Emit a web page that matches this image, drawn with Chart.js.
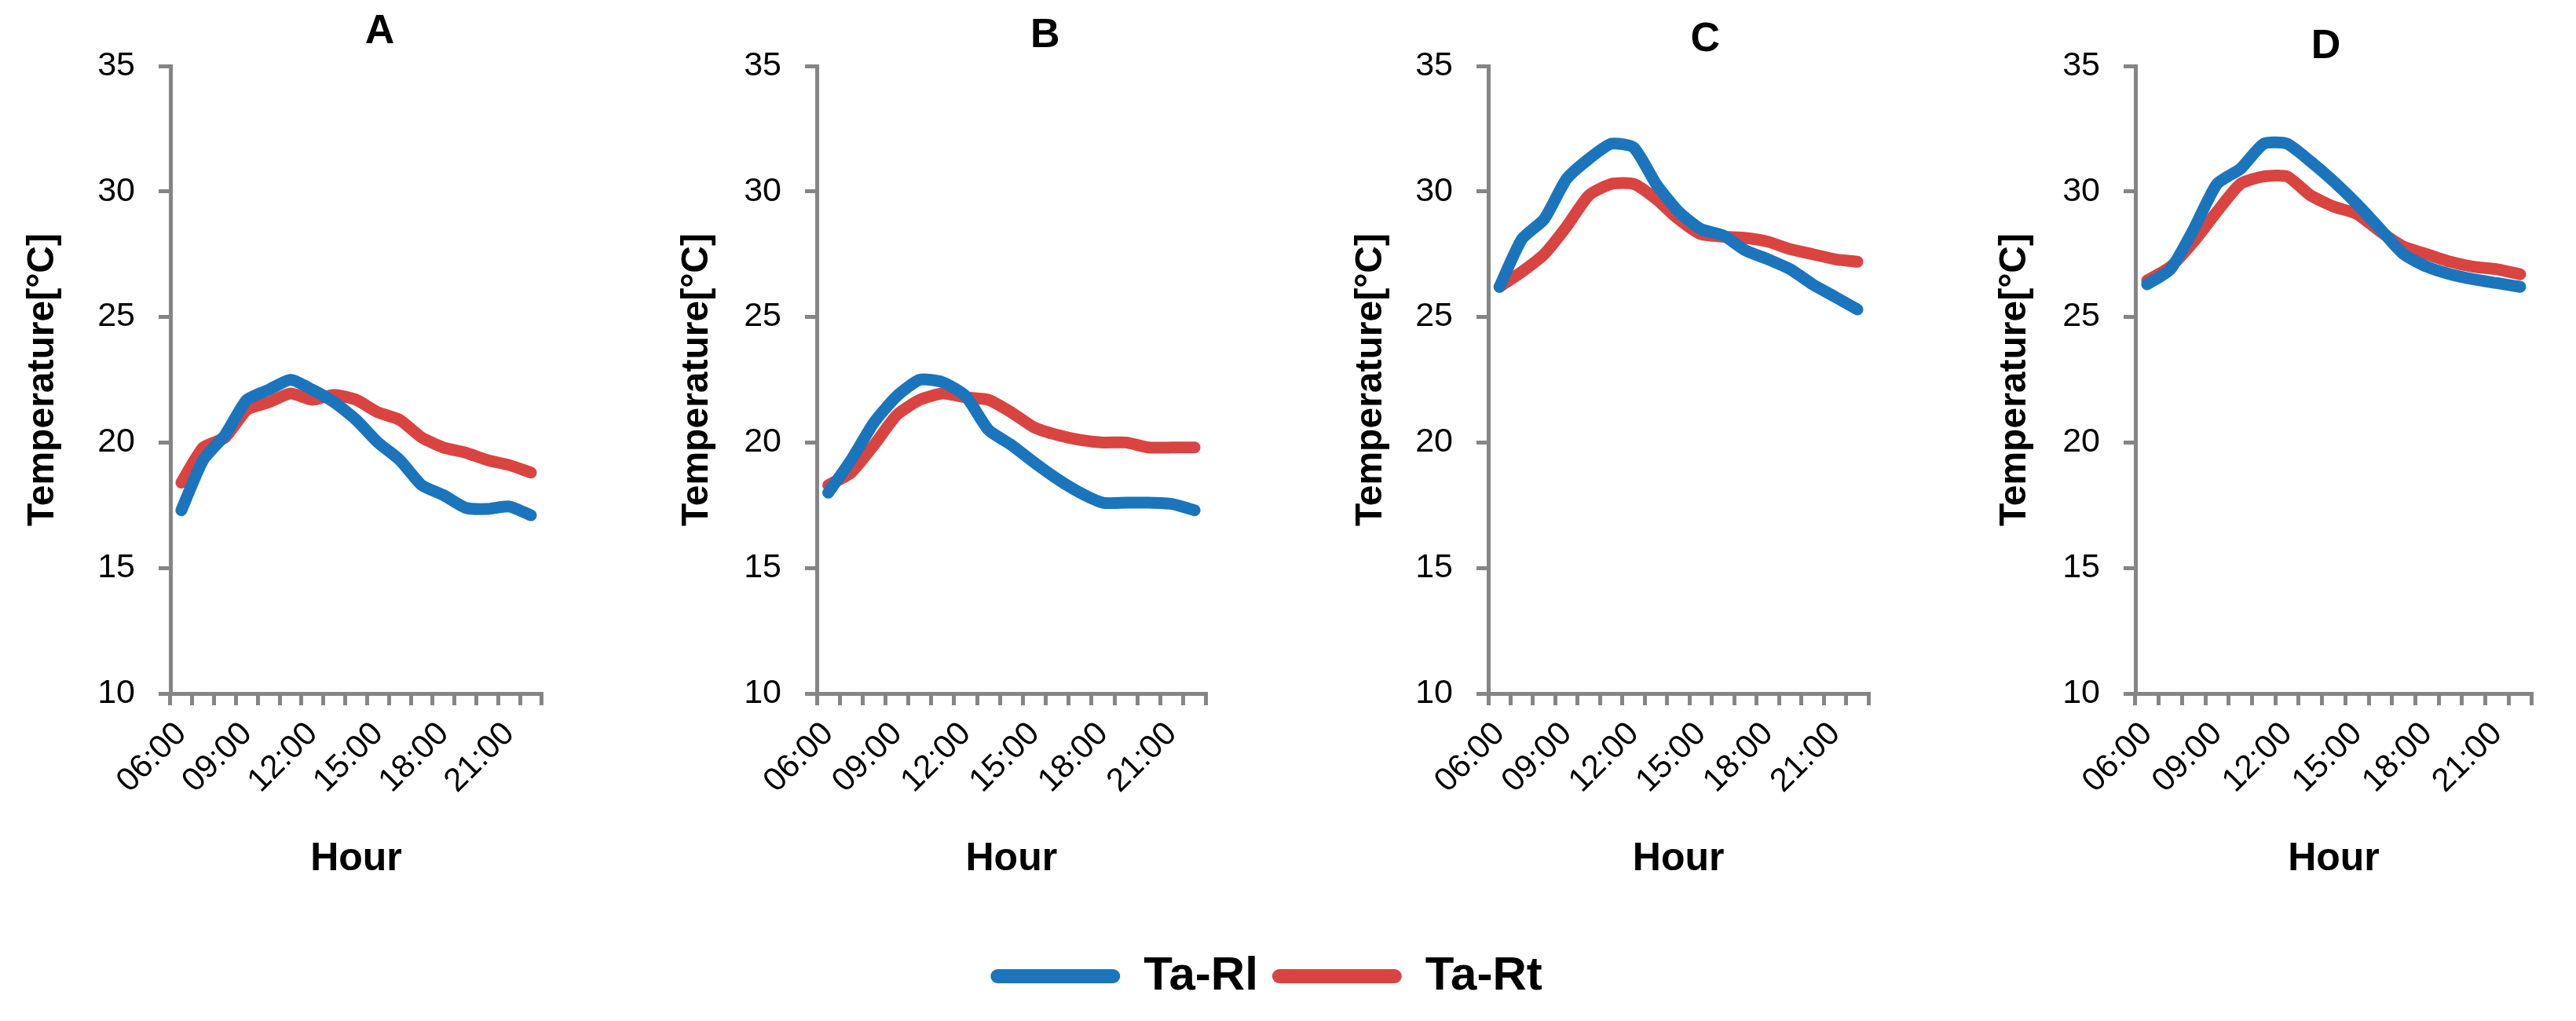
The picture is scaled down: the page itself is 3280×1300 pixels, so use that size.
<!DOCTYPE html>
<html>
<head>
<meta charset="utf-8">
<script src="https://cdn.jsdelivr.net/npm/chart.js@4.4.0/dist/chart.umd.min.js"></script>
<style>
    body { margin: 0; background: #fff; width: 3280px; height: 1300px; position: relative; overflow: hidden; }
    canvas { position: absolute; top: 0; }
</style>
</head>
<body>
<canvas id="graficoA" width="707" height="1143" style="left:17px"></canvas>
<canvas id="graficoB" width="729" height="1143" style="left:840px"></canvas>
<canvas id="graficoC" width="718" height="1143" style="left:1695px"></canvas>
<canvas id="graficoD" width="738" height="1143" style="left:2519px"></canvas>
<canvas id="legenda" width="3225" height="120" style="left:0px;top:1180px"></canvas>
<script>
var ore = ['06:00', '07:00', '08:00', '09:00', '10:00', '11:00', '12:00', '13:00', '14:00',
    '15:00', '16:00', '17:00', '18:00', '19:00', '20:00', '21:00', '22:00'];
var oreEtichette = ['06:00', '09:00', '12:00', '15:00', '18:00', '21:00'];
var nomiSerie = ['Ta-Rl', 'Ta-Rt'];
var colori = ['#1b75bc', '#d94441'];

var rlA = [17.3, 19.3, 20.3, 21.7, 22.1, 22.5, 22.1, 21.6, 20.9, 20.0, 19.3, 18.3, 17.9, 17.4, 17.35, 17.45, 17.1];
var rtA = [18.4, 19.8, 20.2, 21.3, 21.6, 21.95, 21.7, 21.9, 21.7, 21.2, 20.9, 20.2, 19.8, 19.6, 19.3, 19.1, 18.8];

var rlB = [18.0, 19.3, 20.8, 21.85, 22.5, 22.4, 21.85, 20.5, 19.9, 19.2, 18.55, 18.0, 17.6, 17.6, 17.6, 17.55, 17.3];
var rtB = [18.3, 18.8, 19.9, 21.1, 21.7, 21.95, 21.8, 21.7, 21.2, 20.6, 20.3, 20.1, 20.0, 20.0, 19.8, 19.8, 19.8];

var rlC = [26.2, 28.1, 28.9, 30.5, 31.3, 31.9, 31.75, 30.3, 29.2, 28.5, 28.25, 27.65, 27.3, 26.9, 26.3, 25.8, 25.3];
var rtC = [26.2, 26.8, 27.5, 28.6, 29.85, 30.3, 30.3, 29.7, 28.9, 28.3, 28.2, 28.15, 28.0, 27.7, 27.5, 27.3, 27.2];

var rlD = [26.3, 26.9, 28.5, 30.3, 30.9, 31.9, 31.9, 31.2, 30.4, 29.5, 28.5, 27.5, 27.0, 26.7, 26.5, 26.35, 26.2];
var rtD = [26.45, 27.0, 28.0, 29.2, 30.3, 30.6, 30.6, 29.85, 29.4, 29.1, 28.4, 27.8, 27.5, 27.2, 27.0, 26.9, 26.7];

var font = '"Liberation Sans", Arial, sans-serif';
var grigio = '#858585';

// lettera del pannello sopra l'area del grafico
const letteraPannello = {
    id: 'letteraPannello',
    afterDraw(chart, args, opts) {
        const ctx = chart.ctx;
        const area = chart.chartArea;
        ctx.save();
        ctx.font = 'bold 52px ' + font;
        ctx.fillStyle = '#000';
        ctx.textAlign = 'center';
        ctx.textBaseline = 'middle';
        ctx.fillText(opts.testo, (area.left + area.right) / 2 + opts.dx, opts.y);
        ctx.restore();
    }
};

function creaGrafico(id, lettera, rl, rt, dx, yLettera, padTitoloY) {
    const ctx = document.getElementById(id).getContext('2d');
    return new Chart(ctx, {
        type: 'line',
        data: {
            labels: ore,
            datasets: [{
                label: nomiSerie[0],
                data: rl,
                borderColor: colori[0],
                backgroundColor: colori[0],
                borderWidth: 15,
                borderCapStyle: 'round',
                borderJoinStyle: 'round',
                pointRadius: 0,
                tension: 0.2
            }, {
                label: nomiSerie[1],
                data: rt,
                borderColor: colori[1],
                backgroundColor: colori[1],
                borderWidth: 15,
                borderCapStyle: 'round',
                borderJoinStyle: 'round',
                pointRadius: 0,
                tension: 0.2
            }]
        },
        options: {
            responsive: false,
            animation: false,
            devicePixelRatio: 1,
            layout: { padding: { top: 84, right: 10, left: 0, bottom: 0 } },
            plugins: {
                legend: { display: false },
                tooltip: { enabled: false },
                letteraPannello: { testo: lettera, dx: dx, y: yLettera }
            },
            scales: {
                x: {
                    offset: true,
                    afterFit: function (scale) { scale.height = 260; },
                    border: { display: true, color: grigio, width: 5 },
                    grid: { offset: true, drawOnChartArea: false, drawTicks: true, tickLength: 15, color: grigio, lineWidth: 5 },
                    ticks: {
                        autoSkip: false,
                        minRotation: 45,
                        maxRotation: 45,
                        padding: 12,
                        color: '#000',
                        font: { family: font, size: 42 },
                        callback: function (val, i) {
                            return oreEtichette.indexOf(ore[i]) >= 0 ? ore[i] : '';
                        }
                    },
                    title: {
                        display: true,
                        text: 'Hour',
                        color: '#000',
                        padding: { top: 0, bottom: 24 },
                        font: { family: font, size: 50, weight: 'bold', lineHeight: 1 }
                    }
                },
                y: {
                    min: 10,
                    max: 35,
                    afterFit: function (scale) { scale.width = 200; },
                    border: { display: true, color: grigio, width: 5 },
                    grid: { drawOnChartArea: false, drawTicks: true, tickLength: 15, color: grigio, lineWidth: 5 },
                    ticks: {
                        stepSize: 5,
                        padding: 30,
                        color: '#000',
                        font: { family: font, size: 43 }
                    },
                    title: {
                        display: true,
                        text: 'Temperature[°C]',
                        color: '#000',
                        padding: { top: padTitoloY, bottom: 0 },
                        font: { family: font, size: 48, weight: 'bold', lineHeight: 1 }
                    }
                }
            }
        },
        plugins: [letteraPannello]
    });
}

creaGrafico('graficoA', 'A', rlA, rtA, 30, 41, 14);
creaGrafico('graficoB', 'B', rlB, rtB, 43, 46, 24);
creaGrafico('graficoC', 'C', rlC, rtC, 34, 51, 27);
creaGrafico('graficoD', 'D', rlD, rtD, -10, 60, 23);

// legenda comune sotto i quattro grafici
new Chart(document.getElementById('legenda').getContext('2d'), {
    type: 'line',
    data: {
        labels: [],
        datasets: [
            { label: nomiSerie[0], data: [], backgroundColor: colori[0], borderColor: colori[0], borderWidth: 0 },
            { label: nomiSerie[1], data: [], backgroundColor: colori[1], borderColor: colori[1], borderWidth: 0 }
        ]
    },
    options: {
        responsive: false,
        animation: false,
        devicePixelRatio: 1,
        layout: { padding: { top: 15 } },
        scales: { x: { display: false }, y: { display: false } },
        plugins: {
            tooltip: { enabled: false },
            legend: {
                display: true,
                position: 'top',
                maxHeight: 120,
                labels: {
                    boxWidth: 165,
                    boxHeight: 18,
                    useBorderRadius: true,
                    borderRadius: 9,
                    padding: 18,
                    color: '#000',
                    font: { family: font, size: 60, weight: 'bold' }
                }
            }
        }
    }
});
</script>
</body>
</html>
